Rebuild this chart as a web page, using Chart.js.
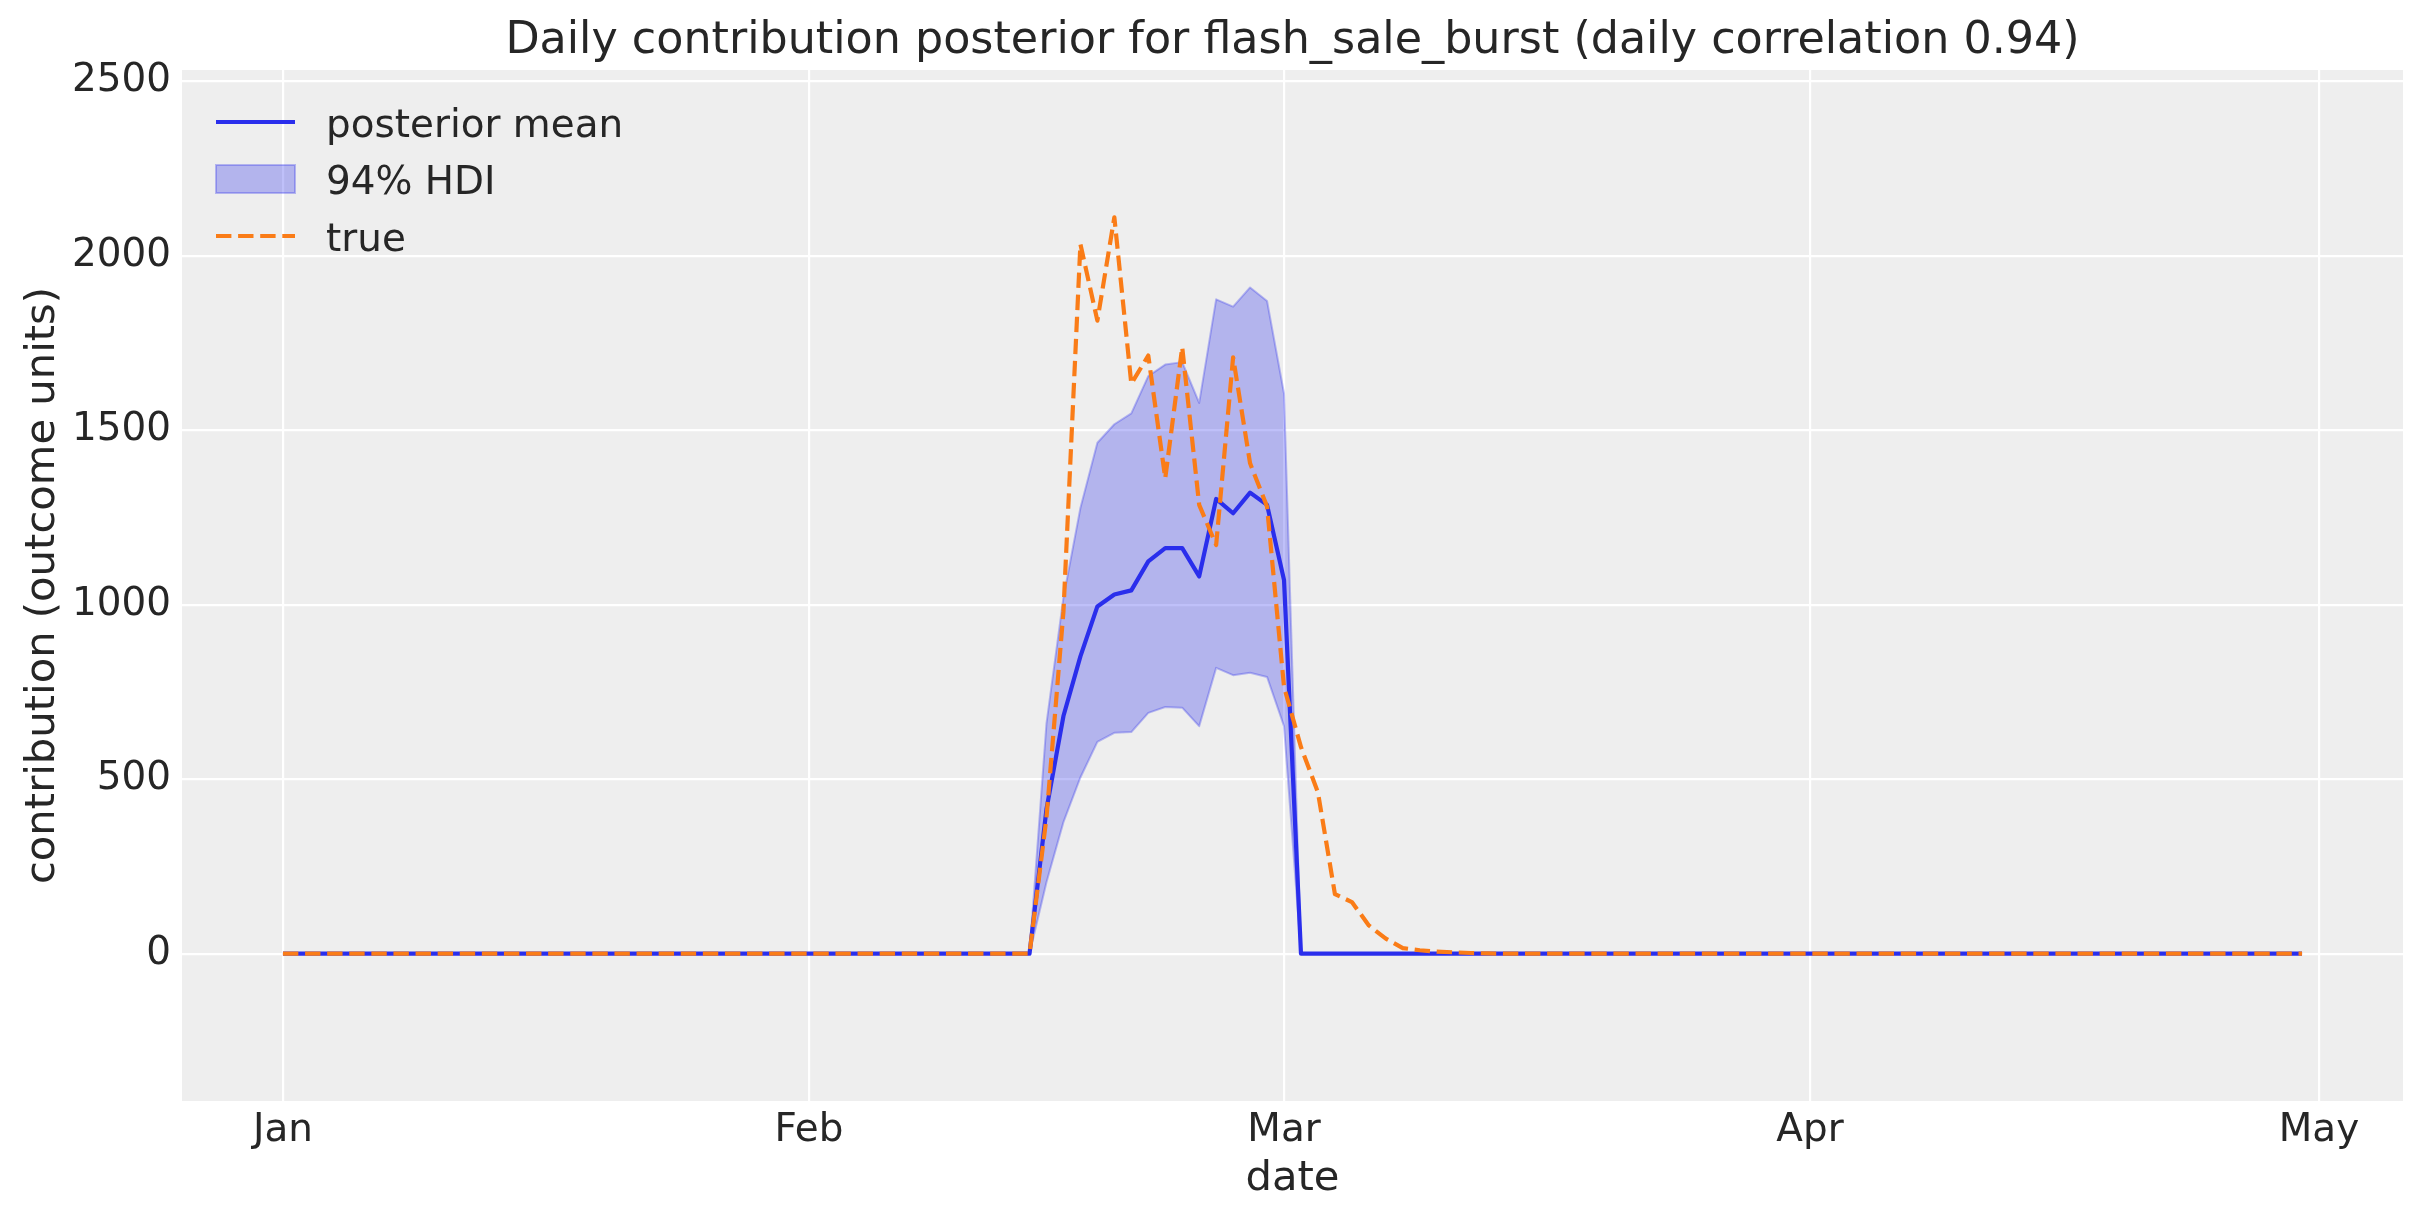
<!DOCTYPE html>
<html>
<head>
<meta charset="utf-8">
<script src="https://cdn.jsdelivr.net/npm/chart.js@4.4.1/dist/chart.umd.min.js"></script>
<style>
  html, body { margin: 0; padding: 0; background: #fff; }
  canvas { display: block; }
</style>
</head>
<body>
<canvas id="chart" width="2423" height="1223" style="width:2423px;height:1223px"></canvas>
<script>
// daily index, Jan 1 = 0 ... Apr 30 = 119
const days = Array.from({ length: 120 }, (_, i) => i);

// month tick positions (day index) and labels
const monthTicks = [0, 31, 59, 90, 120];
const monthLabels = ['Jan', 'Feb', 'Mar', 'Apr', 'May'];
const yTicks = [0, 500, 1000, 1500, 2000, 2500];

// posterior mean
const meanVals = [
  0, 0, 0, 0, 0, 0, 0, 0, 0, 0,
  0, 0, 0, 0, 0, 0, 0, 0, 0, 0,
  0, 0, 0, 0, 0, 0, 0, 0, 0, 0,
  0, 0, 0, 0, 0, 0, 0, 0, 0, 0,
  0, 0, 0, 0, 0, 414, 681, 852, 995, 1029,
  1041, 1124, 1162, 1162, 1081, 1303, 1262, 1321, 1286, 1071,
  0, 0, 0, 0, 0, 0, 0, 0, 0, 0,
  0, 0, 0, 0, 0, 0, 0, 0, 0, 0,
  0, 0, 0, 0, 0, 0, 0, 0, 0, 0,
  0, 0, 0, 0, 0, 0, 0, 0, 0, 0,
  0, 0, 0, 0, 0, 0, 0, 0, 0, 0,
  0, 0, 0, 0, 0, 0, 0, 0, 0, 0
];

// 94% HDI upper / lower
const hdiHigh = [
  0, 0, 0, 0, 0, 0, 0, 0, 0, 0,
  0, 0, 0, 0, 0, 0, 0, 0, 0, 0,
  0, 0, 0, 0, 0, 0, 0, 0, 0, 0,
  0, 0, 0, 0, 0, 0, 0, 0, 0, 0,
  0, 0, 0, 0, 0, 660, 1020, 1277, 1464, 1517,
  1548, 1655, 1688, 1695, 1578, 1875, 1854, 1909, 1870, 1605,
  0, 0, 0, 0, 0, 0, 0, 0, 0, 0,
  0, 0, 0, 0, 0, 0, 0, 0, 0, 0,
  0, 0, 0, 0, 0, 0, 0, 0, 0, 0,
  0, 0, 0, 0, 0, 0, 0, 0, 0, 0,
  0, 0, 0, 0, 0, 0, 0, 0, 0, 0,
  0, 0, 0, 0, 0, 0, 0, 0, 0, 0
];
const hdiLow = [
  0, 0, 0, 0, 0, 0, 0, 0, 0, 0,
  0, 0, 0, 0, 0, 0, 0, 0, 0, 0,
  0, 0, 0, 0, 0, 0, 0, 0, 0, 0,
  0, 0, 0, 0, 0, 0, 0, 0, 0, 0,
  0, 0, 0, 0, 0, 205, 377, 505, 607, 633,
  635, 690, 707, 705, 652, 819, 798, 805, 793, 652,
  0, 0, 0, 0, 0, 0, 0, 0, 0, 0,
  0, 0, 0, 0, 0, 0, 0, 0, 0, 0,
  0, 0, 0, 0, 0, 0, 0, 0, 0, 0,
  0, 0, 0, 0, 0, 0, 0, 0, 0, 0,
  0, 0, 0, 0, 0, 0, 0, 0, 0, 0,
  0, 0, 0, 0, 0, 0, 0, 0, 0, 0
];

// true contribution
const trueVals = [
  0, 0, 0, 0, 0, 0, 0, 0, 0, 0,
  0, 0, 0, 0, 0, 0, 0, 0, 0, 0,
  0, 0, 0, 0, 0, 0, 0, 0, 0, 0,
  0, 0, 0, 0, 0, 0, 0, 0, 0, 0,
  0, 0, 0, 0, 0, 390, 980, 2033, 1814, 2110,
  1633, 1714, 1362, 1738, 1286, 1171, 1709, 1405, 1281, 765,
  592, 462, 171, 148, 81, 43, 16, 10, 6, 4,
  2, 1, 0, 0, 0, 0, 0, 0, 0, 0,
  0, 0, 0, 0, 0, 0, 0, 0, 0, 0,
  0, 0, 0, 0, 0, 0, 0, 0, 0, 0,
  0, 0, 0, 0, 0, 0, 0, 0, 0, 0,
  0, 0, 0, 0, 0, 0, 0, 0, 0, 0
];

const TITLE = 'Daily contribution posterior for flash_sale_burst (daily correlation 0.94)';
const BLUE = '#2a2eec';
const ORANGE = '#fa7c17';
const BAND = 'rgba(42, 46, 236, 0.3)';
const TEXT = '#262626';
const FONT = '"DejaVu Sans", sans-serif';

const pts = vals => days.map((d, i) => ({ x: d, y: vals[i] }));
const yTop = Math.max(...trueVals) * 1.2;
const yBottom = -Math.max(...trueVals) * 0.2;

// grey plot background
const plotBg = {
  id: 'plotBg',
  beforeDraw(chart) {
    const { ctx, chartArea: a } = chart;
    ctx.save();
    ctx.fillStyle = '#eeeeee';
    ctx.fillRect(a.left, a.top, a.right - a.left, a.bottom - a.top);
    ctx.restore();
  }
};

// title centred over the plot area (matplotlib style)
const axesTitle = {
  id: 'axesTitle',
  afterDraw(chart) {
    const { ctx, chartArea: a } = chart;
    ctx.save();
    ctx.font = '44.4px ' + FONT;
    ctx.fillStyle = TEXT;
    ctx.textAlign = 'center';
    ctx.textBaseline = 'alphabetic';
    ctx.fillText(TITLE, (a.left + a.right) / 2, a.top - 17);
    ctx.restore();
  }
};

// legend inside the plot, upper left
const innerLegend = {
  id: 'innerLegend',
  afterDraw(chart) {
    const { ctx, chartArea: a } = chart;
    const x0 = a.left + 34, x1 = x0 + 79, tx = x1 + 31;
    let y = a.top + 52;
    ctx.save();
    ctx.font = '38.9px ' + FONT;
    ctx.textBaseline = 'alphabetic';
    ctx.textAlign = 'left';
    chart.data.datasets.filter(ds => ds.legendRow !== undefined)
      .sort((p, q) => p.legendRow - q.legendRow)
      .forEach(ds => {
        if (ds.fill) {
          ctx.fillStyle = BAND;
          ctx.fillRect(x0, y - 14, x1 - x0, 28);
          ctx.strokeStyle = BAND;
          ctx.lineWidth = 2;
          ctx.strokeRect(x0, y - 14, x1 - x0, 28);
        } else {
          ctx.strokeStyle = ds.borderColor;
          ctx.lineWidth = ds.borderWidth;
          ctx.setLineDash(ds.borderDash || []);
          ctx.beginPath();
          ctx.moveTo(x0, y);
          ctx.lineTo(x1, y);
          ctx.stroke();
          ctx.setLineDash([]);
        }
        ctx.fillStyle = TEXT;
        ctx.fillText(ds.label, tx, y + 14.5);
        y += 57;
      });
    ctx.restore();
  }
};

const ctx = document.getElementById('chart').getContext('2d');
const chart = new Chart(ctx, {
  type: 'line',
  data: {
    datasets: [
      {
        label: '94% HDI',
        legendRow: 1,
        data: pts(hdiHigh),
        borderColor: BAND,
        borderWidth: 2,
        backgroundColor: BAND,
        fill: '+1',
        order: 2
      },
      {
        label: 'hdi low',
        data: pts(hdiLow),
        borderColor: BAND,
        borderWidth: 2,
        fill: false,
        order: 3
      },
      {
        label: 'posterior mean',
        legendRow: 0,
        data: pts(meanVals),
        borderColor: BLUE,
        borderWidth: 4.2,
        fill: false,
        order: 1
      },
      {
        label: 'true',
        legendRow: 2,
        data: pts(trueVals),
        borderColor: ORANGE,
        borderWidth: 4.2,
        borderDash: [15.4, 6.7],
        fill: false,
        order: 0
      }
    ]
  },
  options: {
    responsive: false,
    devicePixelRatio: 1,
    animation: false,
    layout: { padding: { left: 0, right: 20, top: 70, bottom: 0 } },
    elements: {
      point: { radius: 0 },
      line: { tension: 0, borderJoinStyle: 'round', borderCapStyle: 'butt' }
    },
    plugins: {
      legend: { display: false },
      tooltip: { enabled: false },
      title: { display: false }
    },
    scales: {
      x: {
        type: 'linear',
        min: -5.95,
        max: 124.95,
        afterBuildTicks: s => { s.ticks = monthTicks.map(v => ({ value: v })); },
        afterFit: s => { s.height = 122; },
        ticks: {
          autoSkip: false,
          maxRotation: 0,
          padding: 7,
          color: TEXT,
          font: { family: FONT, size: 38.9 },
          callback: v => monthLabels[monthTicks.indexOf(v)]
        },
        grid: { color: '#ffffff', lineWidth: 2.2, drawTicks: false },
        border: { display: false },
        title: {
          display: true,
          text: 'date',
          color: TEXT,
          font: { family: FONT, size: 41.7 },
          padding: { top: 0, bottom: 19 }
        }
      },
      y: {
        min: yBottom,
        max: yTop,
        afterBuildTicks: s => { s.ticks = yTicks.map(v => ({ value: v })); },
        afterFit: s => { s.width = 182; },
        ticks: {
          padding: 11,
          color: TEXT,
          font: { family: FONT, size: 38.9 },
          callback: v => String(v)
        },
        grid: { color: '#ffffff', lineWidth: 2.2, drawTicks: false },
        border: { display: false },
        title: {
          display: true,
          text: 'contribution (outcome units)',
          color: TEXT,
          font: { family: FONT, size: 41.7 },
          padding: { top: 18, bottom: 0 }
        }
      }
    }
  },
  plugins: [plotBg, axesTitle, innerLegend]
});
</script>
</body>
</html>
